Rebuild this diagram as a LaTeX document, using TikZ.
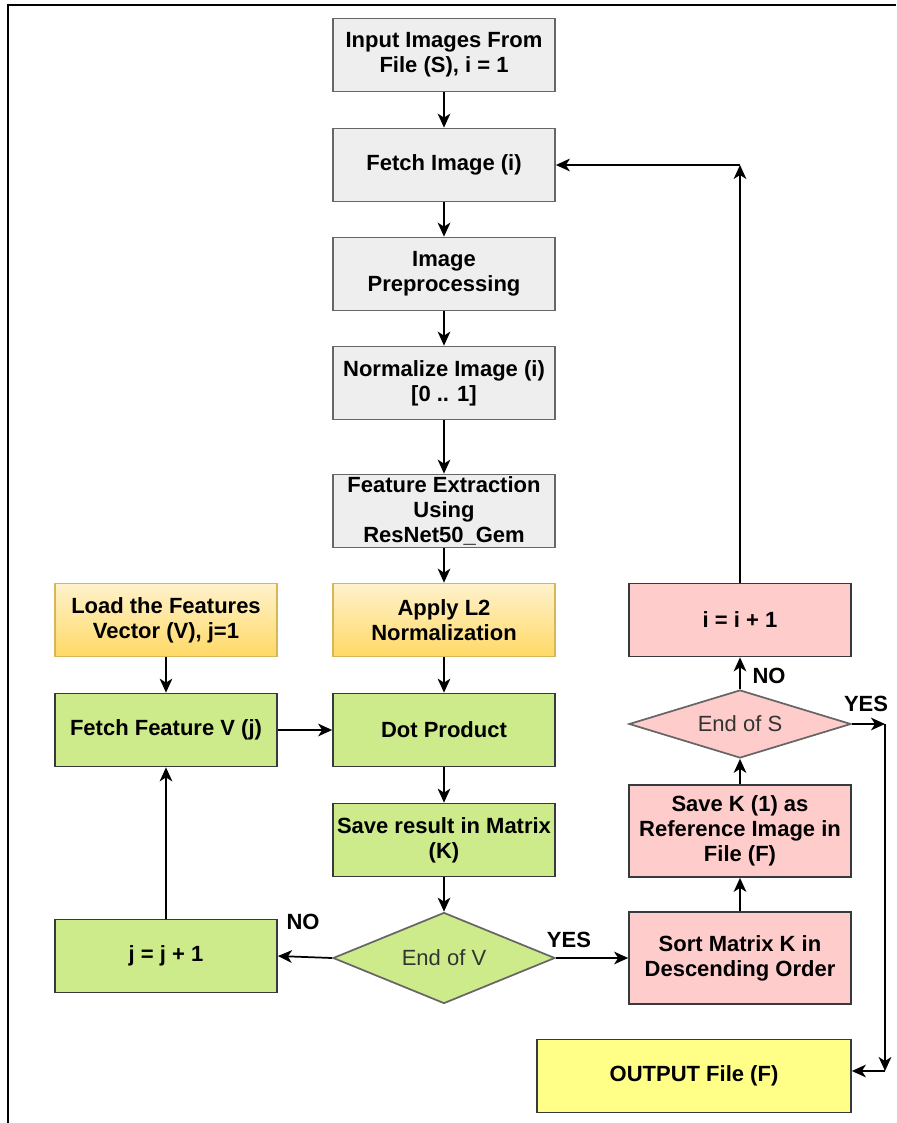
\documentclass[tikz,border=0pt]{standalone}
\usepackage{fontspec}
\setmainfont{Liberation Sans}
\usepackage{xcolor}
\usepackage{tikz}
\usetikzlibrary{shapes.geometric,arrows.meta}

\definecolor{greyfill}{HTML}{EEEEEE}
\definecolor{greyline}{HTML}{666666}
\definecolor{greenfill}{HTML}{CDEB8B}
\definecolor{pinkfill}{HTML}{FFCCCC}
\definecolor{yellowfill}{HTML}{FFFF88}
\definecolor{darkline}{HTML}{36393D}
\definecolor{goldtop}{HTML}{FFF2CC}
\definecolor{goldbot}{HTML}{FFD966}
\definecolor{goldline}{HTML}{D6B656}
\definecolor{dtext}{HTML}{333333}

\newcommand{\boxfont}{\fontsize{16.5}{18.75}\selectfont\bfseries}
\newcommand{\decfont}{\fontsize{16.5}{18.75}\selectfont}

\tikzset{
  stepbox/.style={draw=greyline, line width=1.3pt, minimum width=166.5pt, minimum height=54.75pt,
    inner sep=0pt, align=center, font=\boxfont},
  greybox/.style={stepbox, fill=greyfill},
  greenbox/.style={stepbox, fill=greenfill, draw=darkline},
  pinkbox/.style={stepbox, fill=pinkfill, draw=darkline},
  goldbox/.style={stepbox, top color=goldtop, bottom color=goldbot, draw=goldline},
  decision/.style={diamond, draw=greyline, line width=1.3pt, inner sep=0pt, aspect=2.4,
    minimum width=166.5pt, font=\decfont, text=dtext},
  flow/.style={line width=1.3pt, -{Stealth[length=10.5pt,width=9.5pt,inset=3pt]}},
  answer/.style={font=\boxfont, inner sep=0pt}
}

\begin{document}
\begin{tikzpicture}[x=0.75pt,y=0.75pt,yscale=-1,xscale=1]
\useasboundingbox (0,0) rectangle (896,1123);

% frame
\draw [line width=1.5pt] (8,1123) -- (8,5) -- (896,5);

% main column
\node [greybox] (input) at (444,55) {Input Images From\\File (S), i = 1};
\node [greybox] (fetchimg) at (444,165) {Fetch Image (i)};
\node [greybox] (prep) at (444,274) {Image\\Preprocessing};
\node [greybox] (norm) at (444,383) {Normalize Image (i)\\{}[0 .. 1]};
\node [greybox] (feat) at (444,511) {Feature Extraction\\Using\\ResNet50\_Gem};
\node [goldbox] (ltwo) at (444,620) {Apply L2\\Normalization};
\node [greenbox] (dot) at (444,730) {Dot Product};
\node [greenbox] (save) at (444,840) {Save result in Matrix\\(K)};
\node [decision, fill=greenfill, minimum height=68.25pt] (endv) at (444,958) {End of V};

% left column
\node [goldbox] (load) at (166,620) {Load the Features\\Vector (V), j=1};
\node [greenbox] (fetchfeat) at (166,730) {Fetch Feature V (j)};
\node [greenbox] (jinc) at (166,956) {j = j + 1};

% right column
\node [pinkbox, minimum height=69pt] (sort) at (740,958) {Sort Matrix K in\\Descending Order};
\node [pinkbox, minimum height=69pt] (savek) at (740,831) {Save K (1) as\\Reference Image in\\File (F)};
\node [decision, fill=pinkfill, minimum height=51pt] (ends) at (740,724) {End of S};
\node [pinkbox] (iinc) at (740,620) {i = i + 1};
\node [stepbox, fill=yellowfill, draw=darkline, minimum width=235.5pt] (output) at (694,1076) {OUTPUT File (F)};

\coordinate (iup) at (740,165);
\coordinate (yesr) at (885,724);
\coordinate (yesd) at (885,1071);

% connectors
\draw [flow] (input) -- (fetchimg);
\draw [flow] (fetchimg) -- (prep);
\draw [flow] (prep) -- (norm);
\draw [flow] (norm) -- (feat);
\draw [flow] (feat) -- (ltwo);
\draw [flow] (ltwo) -- (dot);
\draw [flow] (load) -- (fetchfeat);
\draw [flow] (fetchfeat) -- (dot);
\draw [flow] (dot) -- (save);
\draw [flow] (save) -- (endv);
\draw [flow] (endv.west) -- (jinc.east);
\draw [flow] (jinc) -- (fetchfeat);
\draw [flow] (endv.east) -- (sort.west);
\draw [flow] (sort) -- (savek);
\draw [flow] (savek) -- (ends);
\draw [flow] (ends) -- (iinc);
\draw [flow] (iinc) -- (iup);
\draw [flow] (iup) -- (fetchimg.east);
\draw [flow] (ends.east) -- (yesr);
\draw [flow] (yesr) -- (yesd);
\draw [flow] (yesd) -- (output.east |- yesd);

% labels
\node [answer] (nov) at (303,922) {NO};
\node [answer] (yesv) at (569,940) {YES};
\node [answer] (nos) at (769,676) {NO};
\node [answer] (yess) at (866,704) {YES};

\end{tikzpicture}
\end{document}
